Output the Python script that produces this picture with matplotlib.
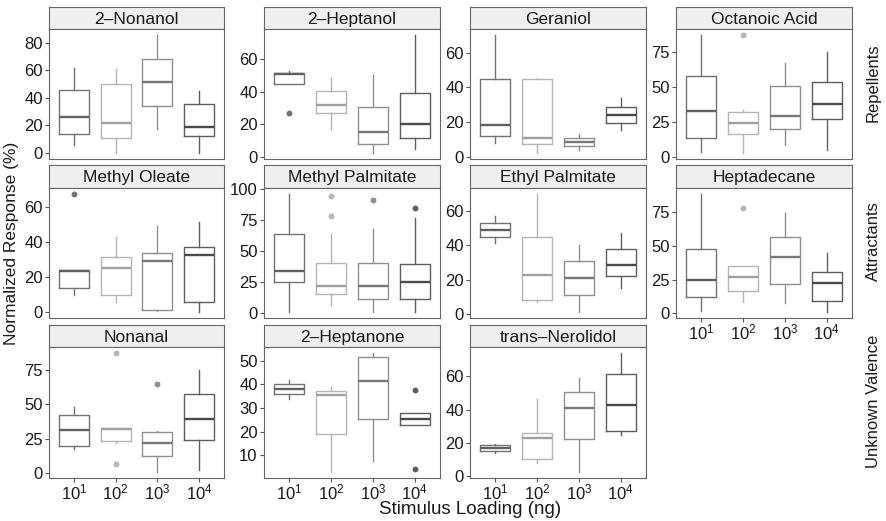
import matplotlib
matplotlib.use("Agg")
import matplotlib.pyplot as plt
from matplotlib.ticker import MultipleLocator

plt.rcParams["font.family"] = ["Liberation Sans", "DejaVu Sans"]
plt.rcParams["mathtext.fontset"] = "custom"
plt.rcParams["mathtext.rm"] = "Liberation Sans"

# facet names, in facet_wrap order
COMPOUNDS = ["2\u2013Nonanol", "2\u2013Heptanol", "Geraniol", "Octanoic Acid",
             "Methyl Oleate", "Methyl Palmitate", "Ethyl Palmitate", "Heptadecane",
             "Nonanal", "2\u2013Heptanone", "trans\u2013Nerolidol"]
LOADINGS = [r"$\mathregular{10^1}$", r"$\mathregular{10^2}$",
            r"$\mathregular{10^3}$", r"$\mathregular{10^4}$"]
VALENCE = ["Repellents", "Attractants", "Unknown Valence"]

# box statistics, one row per compound, one value per loading
WHISLO = [[5.5, 0.0, 17.4, 0.2], [44.9, 17.0, 2.2, 4.9], [8.3, 2.3, 4.2, 15.6],
          [3.7, 3.0, 9.1, 5.4], [9.7, 5.8, 0.6, 0.2], [0.5, 5.9, 0.5, 0.5],
          [41.2, 7.1, 1.1, 15.3], [1.7, 8.8, 7.8, 1.0], [17.0, 21.8, 0.5, 1.9],
          [33.9, 2.8, 7.5, 22.8], [13.8, 8.0, 2.4, 24.4]]
Q1 = [[13.8, 11.0, 34.0, 12.4], [44.9, 26.6, 8.1, 11.6], [12.1, 7.6, 6.5, 19.5],
      [13.8, 16.9, 20.1, 27.4], [13.8, 9.7, 1.5, 6.0], [25.0, 15.5, 10.9, 10.9],
      [44.8, 8.2, 11.1, 22.0], [12.0, 16.4, 21.5, 9.3], [19.4, 23.1, 11.9, 23.8],
      [35.9, 19.0, 25.4, 22.8], [14.8, 10.0, 22.0, 27.2]]
MED = [[26.2, 21.9, 51.4, 19.0], [50.8, 32.1, 15.4, 20.3], [18.2, 11.2, 8.7, 23.9],
       [33.0, 24.1, 29.7, 37.7], [23.8, 25.3, 29.2, 32.4], [34.1, 21.3, 21.6, 24.5],
       [48.9, 22.8, 21.1, 28.5], [24.9, 27.1, 42.0, 22.2], [31.6, 32.0, 21.6, 39.6],
       [38.0, 35.6, 41.4, 25.2], [17.0, 22.8, 41.0, 42.6]]
Q3 = [[46.0, 50.0, 68.3, 35.2], [51.4, 40.2, 30.9, 39.0], [45.0, 44.6, 11.0, 28.7],
      [58.1, 32.5, 51.0, 53.9], [24.4, 31.3, 33.9, 37.4], [63.7, 40.0, 40.0, 39.5],
      [53.1, 45.0, 30.8, 37.7], [47.4, 35.2, 56.5, 30.3], [42.2, 32.8, 29.6, 57.3],
      [40.0, 37.3, 51.7, 28.0], [18.4, 25.8, 50.4, 61.6]]
WHISHI = [[61.9, 61.0, 85.5, 45.2], [53.0, 48.4, 50.4, 75.0], [70.2, 45.7, 13.5, 33.8],
          [87.1, 33.5, 67.4, 74.7], [24.4, 43.0, 49.0, 51.2], [96.0, 63.2, 67.7, 76.3],
          [56.9, 69.9, 40.4, 46.9], [88.3, 35.2, 74.3, 45.0], [48.0, 32.8, 30.8, 75.0],
          [42.1, 38.9, 53.4, 28.0], [19.4, 46.4, 59.0, 74.0]]
FLIERS = [[[], [], [], []], [[26.6], [], [], []], [[], [], [], []],
          [[], [87.1], [], []], [[67.4], [], [], []], [[], [94.1, 78.1], [91.2], [84.5]],
          [[], [], [], []], [[], [78.0], [], []], [[], [87.6, 6.6], [64.8], []],
          [[], [], [], [37.6, 4.3]], [[], [], [], []]]
Y_STEP = [20, 20, 20, 25, 20, 25, 20, 25, 25, 10, 20]

BOX_COLORS = ["#737373", "#b5b5b5", "#8f8f8f", "#5e5e5e"]
MED_COLORS = ["#606060", "#a0a0a0", "#787878", "#4a4a4a"]

W, H = 886, 521
COL_X = [(49, 224), (264, 440), (470, 646), (676, 852)]
ROW_Y = [(7, 29, 159), (165, 188, 318), (325, 347, 478)]


def rect(l, t, r, b):
    return [l / W, 1 - b / H, (r - l) / W, (b - t) / H]


fig = plt.figure(figsize=(W / 100, H / 100), dpi=100)

for k, name in enumerate(COMPOUNDS):
    row, col = divmod(k, 4)
    l, r = COL_X[col]
    st, pt, pb = ROW_Y[row]

    strip = fig.add_axes(rect(l, st, r, pt))
    strip.set_facecolor("#efefef")
    strip.set_xticks([])
    strip.set_yticks([])
    for sp in strip.spines.values():
        sp.set_color("#666666")
        sp.set_linewidth(0.8)
    strip.text(0.5, 0.45, name, ha="center", va="center", fontsize=12.5,
               color="#1a1a1a", transform=strip.transAxes)

    ax = fig.add_axes(rect(l, pt, r, pb))
    for i in range(4):
        stats = {"whislo": WHISLO[k][i], "q1": Q1[k][i], "med": MED[k][i],
                 "q3": Q3[k][i], "whishi": WHISHI[k][i], "fliers": FLIERS[k][i]}
        c = BOX_COLORS[i]
        ax.bxp([stats], positions=[i + 1], widths=0.72, showcaps=False,
               manage_ticks=False,
               boxprops=dict(color=c, lw=1.0),
               whiskerprops=dict(color=c, lw=1.0),
               medianprops=dict(color=MED_COLORS[i], lw=1.7),
               flierprops=dict(marker="o", markersize=3.2, markerfacecolor=c,
                               markeredgecolor=c))

    lo = min(min(WHISLO[k]), min(min(f) if f else 1e9 for f in FLIERS[k]))
    hi = max(max(WHISHI[k]), max(max(f) if f else -1e9 for f in FLIERS[k]))
    pad = (hi - lo) * 0.05
    ax.set_ylim(lo - pad, hi + pad)
    ax.set_xlim(0.4, 4.6)
    ax.yaxis.set_major_locator(MultipleLocator(Y_STEP[k]))
    ax.tick_params(axis="y", length=3, width=0.8, color="#555555",
                   labelsize=12, labelcolor="#1a1a1a", pad=1.5)
    for sp in ax.spines.values():
        sp.set_color("#666666")
        sp.set_linewidth(0.8)

    bottom = (row == 2) or (row == 1 and col == 3)
    if bottom:
        ax.set_xticks([1, 2, 3, 4])
        ax.set_xticklabels(LOADINGS)
        ax.tick_params(axis="x", length=3, width=0.8, color="#555555",
                       labelsize=12, labelcolor="#1a1a1a", pad=0.5)
    else:
        ax.set_xticks([])

for j, lab in enumerate(VALENCE):
    st, pt, pb = ROW_Y[j]
    fig.text(873 / W, 1 - (st + pb) / 2 / H, lab, rotation=90, ha="center",
             va="center", fontsize=12, color="#1a1a1a")

fig.text(12 / W, 1 - 243 / H, "Normalized Response (%)", rotation=90,
         ha="center", va="center", fontsize=12.5, color="#1a1a1a")
fig.text(470 / W, 1 - 510 / H, "Stimulus Loading (ng)", ha="center",
         va="center", fontsize=13.5, color="#1a1a1a")

fig.savefig("out.png", dpi=100)
